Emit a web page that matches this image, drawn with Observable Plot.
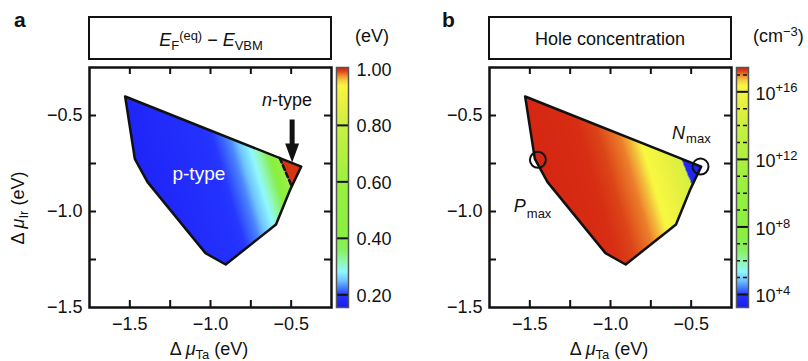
<!DOCTYPE html>
<html><head><meta charset="utf-8">
<script src="https://cdn.jsdelivr.net/npm/d3@7"></script>
<script src="https://cdn.jsdelivr.net/npm/@observablehq/plot@0.6"></script>
<style>
body{margin:0;background:#fff;}
#root{position:relative;width:808px;height:361px;overflow:hidden;font-family:"Liberation Sans",Arial,Helvetica,sans-serif;color:#111;}
.lbl{position:absolute;white-space:nowrap;}
.box{position:absolute;border:2px solid #111;box-sizing:border-box;}
sub{font-size:0.72em;vertical-align:baseline;position:relative;top:0.32em;}
sup{font-size:0.72em;vertical-align:baseline;position:relative;top:-0.45em;}
</style></head><body><div id="root"></div>
<script>
// ---------- data ----------
const xDomain = [-1.75, -0.25];
const yDomain = [-1.5, -0.25];
const xTicks = [-1.5, -1.25, -1.0, -0.75, -0.5];
const xLabels = [-1.5, -1.0, -0.5];
const yTicks = [-0.5, -0.75, -1.0, -1.25];
const yLabels = [-0.5, -1.0, -1.5];

// stability polygon (Δμ_Ta, Δμ_Ir)
const polyX = [-1.529, -0.4375, -0.504, -0.594, -0.906, -1.031, -1.390, -1.469];
const polyY = [-0.401, -0.766, -0.882, -1.068, -1.276, -1.217, -0.847, -0.726];
// n-type corner (panel a) and N_max corner (panel b)
const nTypeX = [-0.571, -0.4375, -0.497];
const nTypeY = [-0.721, -0.766, -0.868];
const nMaxX = [-0.562, -0.4375, -0.494];
const nMaxY = [-0.724, -0.766, -0.862];

// colour gradient runs across iso-lines of slope isoSlope: s = Δμ_Ta + isoSlope·Δμ_Ir
const isoSlope = 0.35;
const profileS = [-1.80, -1.20, -1.10, -1.03, -0.99, -0.95, -0.90, -0.85, -0.80];
const fermiLevel = [0.170, 0.200, 0.228, 0.262, 0.282, 0.311, 0.358, 0.49, 0.70];
const nTypeFermi = 0.998;
const holeS = [-1.80, -1.40, -1.28, -1.15, -1.08, -1.03, -0.95, -0.88, -0.80];
const holeLog = [17.42, 17.36, 17.22, 17.0, 16.7, 16.35, 15.8, 15.1, 14.5];
const nMaxHoleLog = 3.6;

// colour map (fraction of colour bar → colour)
const colorT = [0, 0.05, 0.075, 0.11, 0.15, 0.19, 0.24, 0.30, 0.50, 0.75, 0.85, 0.925, 0.945, 0.965, 0.985, 1];
const colorHex = ["#1a1af0", "#2432ff", "#3e6cff", "#6cc0ff", "#90f8ff", "#90f8b0", "#88f060", "#88f040",
                  "#98f040", "#c8f040", "#e8f040", "#f8f840", "#f4d040", "#f09030", "#dc4418", "#d42010"];
const fermiRange = [0.155, 1.005];
const fermiTicks = [0.2, 0.4, 0.6, 0.8, 1.0];
const fermiLines = [0.2, 0.4, 0.6, 0.8];
const holeRange = [3.23, 17.44];
const holeLabelExp = [4, 8, 12, 16];
const holeDashedExp = [5, 6, 7, 9, 10, 11, 13, 14, 15, 17];

// annotations
const pTypeX = -1.072, pTypeY = -0.803;
const nLabelX = -0.619, nLabelY = -0.423;
const arrowX = -0.494, arrowTipY = -0.745;
const markerX = [-1.45, -0.442], markerY = [-0.731, -0.766];
const nMaxLabel = {x: -0.5375, y: -0.590, subY: -0.619};
const pMaxLabel = {x: -1.525, y: -0.975, subY: -1.0146};

// ---------- helpers ----------
const font = '"Liberation Sans", Arial, Helvetica, sans-serif';
const style = {fontFamily: font, fontSize: "18px", background: "transparent", color: "#111", overflow: "visible"};
const fmt1 = d3.format(".1f");
const poly = polyX.map((x, i) => [x, polyY[i]]);
const closed = [...poly, poly[0]].map(([x, y]) => ({x, y}));
const nTypePoly = nTypeX.map((x, i) => [x, nTypeY[i]]);
const nMaxPoly = nMaxX.map((x, i) => [x, nMaxY[i]]);
const domainFrom = (r) => colorT.map(t => r[0] + t * (r[1] - r[0]));
const colorA = {type: "linear", domain: domainFrom(fermiRange), range: colorHex, clamp: true};
const colorB = {type: "linear", domain: domainFrom(holeRange), range: colorHex, clamp: true};

function field(sArr, vArr, corner, cornerVal) {
  const f = d3.scaleLinear().domain(sArr).range(vArr).clamp(true);
  return (x, y) => {
    if (!d3.polygonContains(poly, [x, y])) return NaN;
    if (d3.polygonContains(corner, [x, y])) return cornerVal;
    return f(x + isoSlope * y);
  };
}

const arrowSymbol = {draw(ctx) {
  ctx.moveTo(-2.5, -43); ctx.lineTo(2.5, -43); ctx.lineTo(2.5, -19); ctx.lineTo(7, -19);
  ctx.lineTo(0, 0); ctx.lineTo(-7, -19); ctx.lineTo(-2.5, -19); ctx.closePath();
}};

function panel(fillFn, color, extras) {
  return Plot.plot({
    width: 400, height: 361, marginLeft: 89, marginRight: 69, marginTop: 67, marginBottom: 54,
    style, x: {domain: xDomain}, y: {domain: yDomain}, color,
    marks: [
      Plot.raster({fill: fillFn, x1: xDomain[0], x2: xDomain[1], y1: yDomain[0], y2: yDomain[1]}),
      Plot.line(closed, {x: "x", y: "y", stroke: "#111", strokeWidth: 2.5, strokeLinejoin: "round"}),
      ...extras,
      Plot.tickX(xTicks, {x: d => d, insetTop: 233, strokeWidth: 2, stroke: "#111"}),
      Plot.tickX(xTicks, {x: d => d, insetBottom: 233, strokeWidth: 2, stroke: "#111"}),
      Plot.tickY(yTicks, {y: d => d, insetRight: 235, strokeWidth: 2, stroke: "#111"}),
      Plot.tickY(yTicks, {y: d => d, insetLeft: 235, strokeWidth: 2, stroke: "#111"}),
      Plot.axisX(xLabels, {tickSize: 0, tickPadding: 10, tickFormat: fmt1, label: null}),
      Plot.axisY(yLabels, {tickSize: 0, tickPadding: 7, tickFormat: fmt1, label: null}),
      Plot.frame({stroke: "#111", strokeWidth: 2.5})
    ]
  });
}

function colorbar(range, color, marks) {
  return Plot.plot({
    width: 72, height: 361, marginLeft: 6, marginRight: 54, marginTop: 67, marginBottom: 54,
    style, x: {domain: [0, 1], axis: null}, y: {domain: range, axis: null}, color,
    marks: [
      Plot.raster({fill: (x, y) => y, x1: 0, x2: 1, y1: range[0], y2: range[1]}),
      ...marks,
      Plot.frame({stroke: "#555", strokeWidth: 1.5})
    ]
  });
}

const root = document.getElementById("root");
function put(el, left, top) {
  el.style.position = "absolute"; el.style.left = left + "px"; el.style.top = top + "px";
  root.appendChild(el);
}
function label(html, x, baseline, {size = 18, anchor = "start", weight = "normal"} = {}) {
  const d = document.createElement("div");
  d.className = "lbl";
  d.innerHTML = html;
  d.style.fontSize = size + "px"; d.style.lineHeight = size + "px"; d.style.fontWeight = weight;
  d.style.left = x + "px"; d.style.top = (baseline - 0.8465 * size) + "px";
  if (anchor === "middle") d.style.transform = "translateX(-50%)";
  root.appendChild(d);
  return d;
}
function box(left, top, w, h) {
  const d = document.createElement("div");
  d.className = "box";
  Object.assign(d.style, {left: left + "px", top: top + "px", width: w + "px", height: h + "px"});
  root.appendChild(d);
}

// ---------- panel a ----------
const pa = panel(field(profileS, fermiLevel, nTypePoly, nTypeFermi), colorA, [
  Plot.line([0, 2].map(i => ({x: nTypeX[i], y: nTypeY[i]})), {x: "x", y: "y", stroke: "#111", strokeWidth: 2.5, strokeDasharray: "5,3"}),
  Plot.text(["p-type"], {x: pTypeX, y: pTypeY, fill: "white", fontSize: 19}),
  Plot.text(["n"], {x: nLabelX, y: nLabelY, textAnchor: "end", fontStyle: "italic", fontSize: 18}),
  Plot.text(["-type"], {x: nLabelX, y: nLabelY, textAnchor: "start", fontSize: 18}),
  Plot.dot([0], {x: arrowX, y: arrowTipY, symbol: arrowSymbol, fill: "#111", stroke: "none"})
]);
put(pa, 0, 0);

// ---------- panel b ----------
const pb = panel(field(holeS, holeLog, nMaxPoly, nMaxHoleLog), colorB, [
  Plot.dot(markerX.map((x, i) => ({x, y: markerY[i]})), {x: "x", y: "y", r: 8, stroke: "#111", strokeWidth: 2, fill: "none"}),
  Plot.text(["N"], {x: nMaxLabel.x, y: nMaxLabel.y, textAnchor: "end", fontStyle: "italic", fontSize: 18}),
  Plot.text(["max"], {x: nMaxLabel.x, y: nMaxLabel.subY, textAnchor: "start", fontSize: 13, dx: 1}),
  Plot.text(["P"], {x: pMaxLabel.x, y: pMaxLabel.y, textAnchor: "end", fontStyle: "italic", fontSize: 18}),
  Plot.text(["max"], {x: pMaxLabel.x, y: pMaxLabel.subY, textAnchor: "start", fontSize: 13, dx: 1})
]);
put(pb, 400, 0);

// ---------- colour bars ----------
const cba = colorbar(fermiRange, colorA, [
  Plot.ruleY(fermiLines, {y: d => d, stroke: "#111", strokeWidth: 2}),
  Plot.text(fermiTicks, {x: 1, y: d => d, text: d => d3.format(".2f")(d), dx: 8, dy: 1, textAnchor: "start", fontSize: 18})
]);
put(cba, 330, 0);

const cbb = colorbar(holeRange, colorB, [
  Plot.ruleY(holeLabelExp, {y: d => d, stroke: "#111", strokeWidth: 2}),
  Plot.ruleY(holeDashedExp, {y: d => d, stroke: "#111", strokeWidth: 1.5, strokeDasharray: "4,3"}),
  Plot.text(holeLabelExp, {x: 1, y: d => d, text: () => "10", dx: 7, dy: 2, textAnchor: "start", fontSize: 18}),
  Plot.text(holeLabelExp, {x: 1, y: d => d, text: d => "+" + d, dx: 27, dy: -3.5, textAnchor: "start", fontSize: 13})
]);
put(cbb, 730, 0);

// ---------- titles & labels ----------
label("a", 14, 27, {size: 21, weight: "bold"});
label("b", 442, 27, {size: 21, weight: "bold"});
box(88, 16, 244, 44);
box(488, 16, 244, 44);
label('<i>E</i><sub>F</sub><sup>(eq)</sup> − <i>E</i><sub>VBM</sub>', 211, 46, {anchor: "middle"});
label("Hole concentration", 610, 45, {anchor: "middle"});
label("(eV)", 355, 42);
label("(cm<sup>−3</sup>)", 753, 42);
label('Δ <i>μ</i><sub>Ta</sub> (eV)', 209, 355, {anchor: "middle"});
label('Δ <i>μ</i><sub>Ta</sub> (eV)', 609, 355, {anchor: "middle"});
const yt = label('Δ <i>μ</i><sub>Ir</sub> (eV)', 19, 207);
yt.style.top = (207 - 9) + "px";
yt.style.transform = "translate(-50%, 0) rotate(-90deg)";
yt.style.transformOrigin = "50% 50%";
</script></body></html>
